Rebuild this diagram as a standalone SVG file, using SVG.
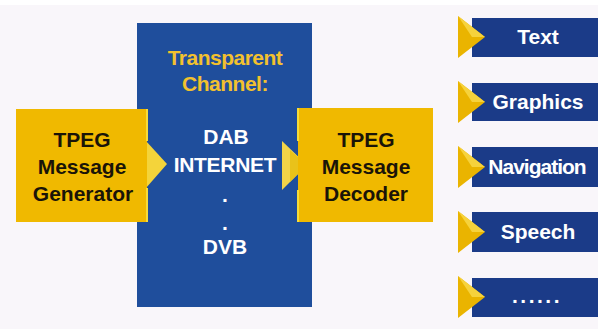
<svg xmlns="http://www.w3.org/2000/svg" width="598" height="329" viewBox="0 0 598 329">
<style>
.t{font-family:"Liberation Sans",Arial,sans-serif;font-weight:bold;font-size:21px;text-anchor:middle}
.blk{fill:#1a1408}
.wht{fill:#ffffff}
.ylw{fill:#f2c12e}
.bar{fill:#1b3b88}
.tri{fill:#eab400}
.tri2{fill:#f6d23c}
</style>
<rect x="0" y="0" width="598" height="329" fill="#f9f6fa"/>
<rect x="0" y="0" width="598" height="5" fill="#ffffff"/>
<g id="channel">
<rect x="137" y="23" width="175" height="284" fill="#1f4e9c"/>
<text class="t ylw" x="225" y="65" letter-spacing="-0.5">Transparent</text>
<text class="t ylw" x="225" y="91" letter-spacing="-0.5">Channel:</text>
<text class="t wht" x="226" y="144">DAB</text>
<text class="t wht" x="225" y="172" letter-spacing="-0.3">INTERNET</text>
<text class="t wht" x="225" y="202">.</text>
<text class="t wht" x="225" y="230">.</text>
<text class="t wht" x="225" y="254">DVB</text>
</g>
<g id="connectors">
<polygon points="146,141 167,164 146,188" fill="#f4d43a"/>
<polygon points="282,141 307,165 282,190" fill="#f3d448"/>
<polygon points="290,150 307,165 290,182" fill="#e9c21a"/>
</g>
<g id="generator">
<rect x="16" y="109" width="131" height="113" fill="#f0b900"/>
<path d="M147,109 V141 M147,188 V222" stroke="#f6dc3a" stroke-width="2" fill="none"/>
<text class="t blk" x="82" y="147">TPEG</text>
<text class="t blk" x="82" y="174">Message</text>
<text class="t blk" x="83" y="201">Generator</text>
</g>
<g id="decoder">
<rect x="298" y="108" width="135" height="114" fill="#f0b900"/>
<path d="M298,108 V141 M298,190 V222" stroke="#f6dc3a" stroke-width="2" fill="none"/>
<text class="t blk" x="366" y="147">TPEG</text>
<text class="t blk" x="366" y="174">Message</text>
<text class="t blk" x="366" y="201">Decoder</text>
</g>
<g id="out-text">
<rect class="bar" x="472" y="18" width="126" height="39"/>
<polygon class="tri" points="458,16 485,37 458,58"/>
<polygon class="tri2" points="458,16 485,37 472,37"/>
<text class="t wht" x="538" y="44">Text</text>
</g>
<g id="out-graphics">
<rect class="bar" x="472" y="83" width="126" height="38"/>
<polygon class="tri" points="458,81 485,102 458,123"/>
<polygon class="tri2" points="458,81 485,102 472,102"/>
<text class="t wht" x="538" y="109">Graphics</text>
</g>
<g id="out-navigation">
<rect class="bar" x="472" y="147" width="126" height="40"/>
<polygon class="tri" points="458,146 485,167 458,188"/>
<polygon class="tri2" points="458,146 485,167 472,167"/>
<text class="t wht" x="537" y="174" letter-spacing="-1">Navigation</text>
</g>
<g id="out-speech">
<rect class="bar" x="472" y="212" width="126" height="40"/>
<polygon class="tri" points="458,211 485,232 458,253"/>
<polygon class="tri2" points="458,211 485,232 472,232"/>
<text class="t wht" x="538" y="239">Speech</text>
</g>
<g id="out-more">
<rect class="bar" x="472" y="278" width="126" height="39"/>
<polygon class="tri" points="458,276 485,297 458,318"/>
<polygon class="tri2" points="458,276 485,297 472,297"/>
<text class="t wht" x="537" y="303" font-size="18" letter-spacing="2.5">......</text>
</g>
</svg>
